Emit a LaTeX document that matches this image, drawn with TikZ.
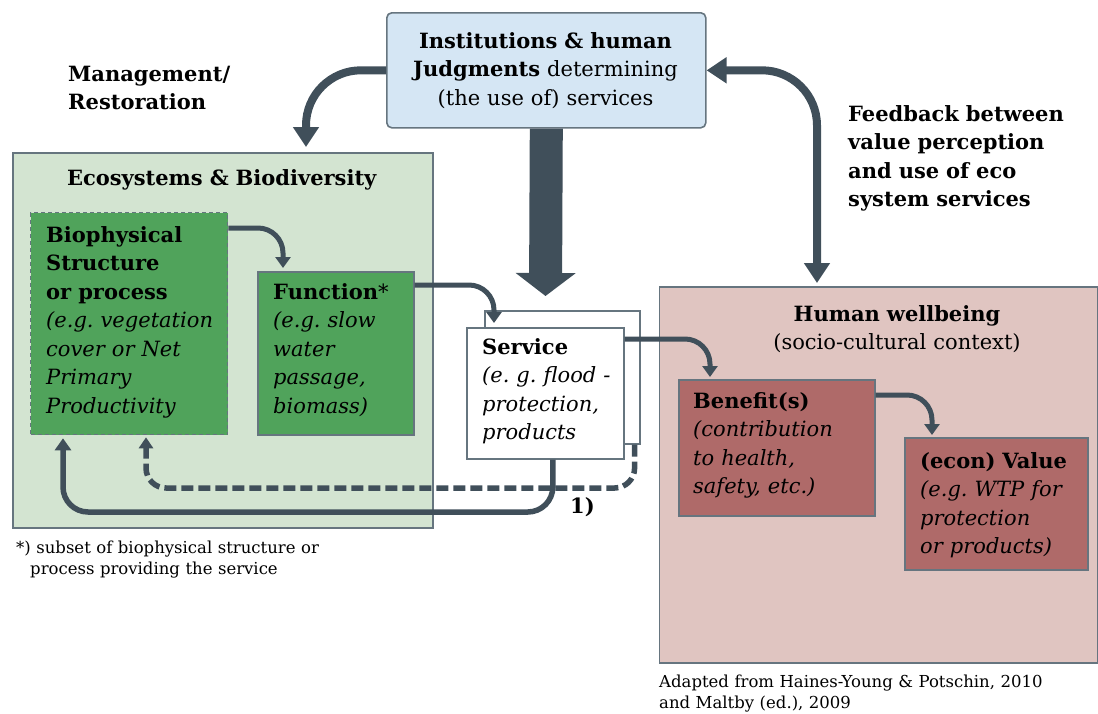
\documentclass[tikz,border=0pt]{standalone}
\usepackage{fontspec}
\setmainfont{DejaVu Serif}
\usetikzlibrary{arrows.meta}

\definecolor{arrowc}{HTML}{404F5A}
\definecolor{edgec}{HTML}{66757F}
\definecolor{instfill}{HTML}{D5E6F4}
\definecolor{ecofill}{HTML}{D3E4D1}
\definecolor{greenbox}{HTML}{50A35B}
\definecolor{hwfill}{HTML}{E0C5C1}
\definecolor{redbox}{HTML}{AF6A69}

\newcommand{\mainfs}{\fontsize{21}{28.5}\selectfont\frenchspacing}
\newcommand{\smallfs}{\fontsize{16.5}{21.5}\selectfont\frenchspacing}

\begin{document}
\begin{tikzpicture}[x=1pt,y=-1pt,
  box/.style={draw=edgec, line width=1.6pt, inner sep=0pt, anchor=north west},
  txtl/.style={inner sep=0pt, anchor=base west, align=left, text width=#1, font=\mainfs},
  txtl/.default=320pt,
  txtc/.style={inner sep=0pt, anchor=base, align=center, text width=#1, font=\mainfs},
  txtc/.default=340pt,
  bigconn/.style={draw=arrowc, line width=8pt, rounded corners=55pt,
    -{Triangle[width=25pt,length=20pt]}},
  midconn/.style={draw=arrowc, line width=5pt, rounded corners=25pt,
    -{Triangle[width=15pt,length=11pt]}},
  backconn/.style={draw=arrowc, line width=5.5pt, rounded corners=25pt,
    -{Triangle[width=16pt,length=12pt]}},
]
\useasboundingbox (0,0) rectangle (1098,713);

% ---- containers ----
\node[box, fill=ecofill, minimum width=420pt, minimum height=375pt] (eco) at (12,152) {};
\node[box, fill=hwfill, minimum width=438pt, minimum height=376pt] (hw) at (658.5,286) {};
\node[box, fill=instfill, rounded corners=5pt, minimum width=319pt, minimum height=115pt] (inst) at (386,12) {};

% ---- inner boxes ----
\node[box, fill=greenbox, dash pattern=on 4pt off 3pt, line width=1.3pt,
      minimum width=197pt, minimum height=222pt] (bio) at (30,212) {};
\node[box, fill=greenbox, minimum width=156pt, minimum height=163pt] (func) at (257,271) {};
\node[box, fill=white, minimum width=155pt, minimum height=133pt] (servB) at (484,310) {};
\node[box, fill=white, minimum width=157pt, minimum height=131pt] (servF) at (466,327) {};
\node[box, fill=redbox, minimum width=196pt, minimum height=136pt] (ben) at (678,379) {};
\node[box, fill=redbox, minimum width=183pt, minimum height=132pt] (val) at (904,437) {};

% ---- arrow end points ----
\coordinate (mgmtEnd) at (306,147);
\coordinate (fbEnd) at (817,283);
\coordinate (bigEnd) at (545.5,296);
\coordinate (loopSolid) at (300,512);
\coordinate (loopDash) at (300,488);

% ---- connectors ----
\draw[bigconn] (inst.west) -| (mgmtEnd);
\draw[bigconn, {Triangle[width=25pt,length=20pt]}-{Triangle[width=25pt,length=20pt]}]
  (inst.east) -| (fbEnd);
\draw[draw=arrowc, line width=33pt, -{Triangle[width=59pt,length=23pt]}]
  (inst.south) -- (bigEnd);

\draw[midconn] ([yshift=-16pt]bio.north east) -| ([xshift=26pt,yshift=3pt]func.north west);
\draw[midconn] ([yshift=-14pt]func.north east) -| ([xshift=28pt,yshift=4pt]servF.north west);
\draw[midconn] ([yshift=-12pt]servF.north east) -| ([xshift=32pt,yshift=2pt]ben.north west);
\draw[midconn] ([yshift=-16pt]ben.north east) -| ([xshift=28pt,yshift=2pt]val.north west);

\draw[backconn, rounded corners=20pt, dash pattern=on 12pt off 5pt,
      -{Triangle[width=14pt,length=11pt]}]
  ([xshift=-6pt]servB.south east) coordinate (dA)
  -- (dA |- loopDash)
  -- ([xshift=116pt]bio.south west |- loopDash)
  -- ([xshift=116pt,yshift=-2pt]bio.south west);
\draw[backconn]
  ([xshift=7.5pt]servF.south) coordinate (sA)
  -- (sA |- loopSolid)
  -- ([xshift=33pt]bio.south west |- loopSolid)
  -- ([xshift=33pt,yshift=-3pt]bio.south west);

% ---- texts ----
\node[txtc] (instT) at (545.5,48)
  {\textbf{Institutions \& human}\\\textbf{Judgments} determining\\(the use of) services};
\node[txtl] (mgmtT) at (68,81) {\textbf{Management/}\\\textbf{Restoration}};
\node[txtl] (fbT) at (848,121)
  {\textbf{Feedback between}\\\textbf{value perception}\\\textbf{and use of eco}\\\textbf{system services}};
\node[txtc] (ecoT) at (222,185) {\textbf{Ecosystems \& Biodiversity}};
\node[txtl] (bioT) at (46,242)
  {\textbf{Biophysical}\\\textbf{Structure}\\\textbf{or process}\\
   \textit{(e.g. vegetation}\\\textit{cover or Net}\\\textit{Primary}\\\textit{Productivity}};
\node[txtl] (funcT) at (273,299)
  {\textbf{Function}*\\\textit{(e.g. slow}\\\textit{water}\\\textit{passage,}\\\textit{biomass)}};
\node[txtl] (servT) at (482,354)
  {\textbf{Service}\\\textit{(e. g. flood -}\\\textit{protection,}\\\textit{products}};
\node[txtc] (hwT) at (897,321) {\textbf{Human wellbeing}\\(socio-cultural context)};
\node[txtl] (benT) at (693,408)
  {\textbf{Benefit(s)}\\\textit{(contribution}\\\textit{to health,}\\\textit{safety, etc.)}};
\node[txtl] (valT) at (920,468)
  {\textbf{(econ) Value}\\\textit{(e.g. WTP for}\\\textit{protection}\\\textit{or products)}};
\node[txtl=40pt] (oneT) at (570,513) {\textbf{1)}};
\node[txtl, font=\smallfs] (noteT) at (16,553)
  {*) subset of biophysical structure or\\\hspace*{14pt}process providing the service};
\node[txtl=440pt, font=\smallfs] (srcT) at (659,687)
  {Adapted from Haines-Young \& Potschin, 2010\\and Maltby (ed.), 2009};
\end{tikzpicture}
\end{document}
